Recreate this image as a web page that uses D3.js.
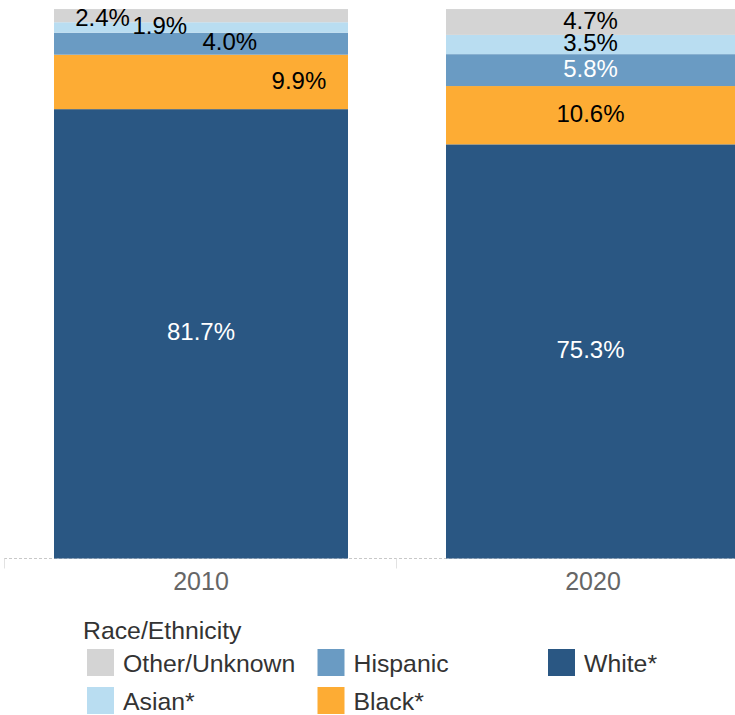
<!DOCTYPE html>
<html>
<head>
<meta charset="utf-8">
<script src="https://cdn.jsdelivr.net/npm/d3@7"></script>
<style>
  html, body { margin: 0; padding: 0; background: #fff; }
  svg { display: block; font-family: 'Liberation Sans', Arial, sans-serif; }
</style>
</head>
<body>
<div id="chart"></div>
<script>
// Data

const years = ['2010', '2020']
const groups = ['Other/Unknown', 'Asian*', 'Hispanic', 'Black*', 'White*']

const other = [2.4, 4.7]
const asian = [1.9, 3.5]
const hispanic = [4.0, 5.8]
const black = [9.9, 10.6]
const white = [81.7, 75.3]

// Layout & styles

const W = 735
const H = 715

const COLORS = {
  'Other/Unknown': '#d4d4d4',
  'Asian*': '#b9ddf1',
  'Hispanic': '#6a9bc3',
  'Black*': '#fdac34',
  'White*': '#2a5783',
  axisText: '#666',
  legendText: '#333',
  baseline: '#c8c8c8',
  divider: '#e2e2e2',
}
const DARK = new Set(['Hispanic', 'White*'])

// where each label sits across its bar (Tableau staggers the crowded 2010 ones)
const LABEL_ALONG = {
  '2010': { 'Other/Unknown': 0.165, 'Asian*': 0.36, 'Hispanic': 0.598, 'Black*': 0.833, 'White*': 0.5 },
  '2020': {},
}

const LABEL_FS = 24
const LEGEND_FS = 24.8
const fmt = v => d3.format('.1f')(v) + '%'

const rows = years.map((year, i) => ({
  year,
  'Other/Unknown': other[i],
  'Asian*': asian[i],
  'Hispanic': hispanic[i],
  'Black*': black[i],
  'White*': white[i],
}))

const stack = d3.stack().keys(groups.slice().reverse())(rows)

// Scales

const x = d3.scaleBand()
  .domain(years)
  .range([5, 789])
  .paddingInner(0.25)
  .paddingOuter(0.125)

const y = d3.scaleLinear()
  .domain([0, 100])
  .range([558.5, 8.5])

// Container

const svg = d3.select('#chart')
  .append('svg')
  .attr('width', W)
  .attr('height', H)

const plot = svg.append('g')

// Baseline & cell dividers

plot.append('line')
  .attr('x1', x.range()[0] - 1)
  .attr('x2', W)
  .attr('y1', y(0))
  .attr('y2', y(0))
  .attr('stroke', COLORS.baseline)
  .attr('stroke-width', 1)
  .attr('stroke-dasharray', '3, 2')

plot.append('g')
  .selectAll('line')
  .data(years)
  .join('line')
  .attr('x1', d => x(d) - x.step() * x.paddingOuter() - 0.5)
  .attr('x2', d => x(d) - x.step() * x.paddingOuter() - 0.5)
  .attr('y1', y(0))
  .attr('y2', y(0) + 10)
  .attr('stroke', COLORS.divider)
  .attr('stroke-width', 1)

// Bars

const layers = plot.append('g')
  .selectAll('g')
  .data(stack)
  .join('g')
  .attr('fill', d => COLORS[d.key])

layers.selectAll('rect')
  .data(d => d.map(s => ({ key: d.key, s })))
  .join('rect')
  .attr('x', d => x(d.s.data.year))
  .attr('width', x.bandwidth())
  .attr('y', d => y(d.s[1]))
  .attr('height', d => y(d.s[0]) - y(d.s[1]))

// Labels

const labels = []
stack.forEach(layer => {
  layer.forEach(s => {
    const year = s.data.year
    const x0 = x(year)
    const x1 = Math.min(x0 + x.bandwidth(), W)
    const along = LABEL_ALONG[year][layer.key]
    const h = y(s[0]) - y(s[1])
    labels.push({
      text: fmt(s.data[layer.key]),
      cx: along == null ? (x0 + x1) / 2 : x0 + along * x.bandwidth(),
      // keep the label inside the top of the plot
      cy: Math.max((y(s[0]) + y(s[1])) / 2 - 2, y.range()[1] + LABEL_FS * 0.36),
      fill: DARK.has(layer.key) && h >= 24 ? '#fff' : '#000',
    })
  })
})

plot.append('g')
  .selectAll('text')
  .data(labels)
  .join('text')
  .attr('x', d => d.cx)
  .attr('y', d => d.cy)
  .attr('dy', '0.36em')
  .attr('text-anchor', 'middle')
  .attr('font-size', LABEL_FS)
  .attr('fill', d => d.fill)
  .text(d => d.text)

// Axis

const axis = plot.append('g')
  .attr('transform', `translate(0,${y(0)})`)
  .call(d3.axisBottom(x).tickSize(0).tickPadding(0))

axis.select('.domain').remove()
axis.selectAll('text')
  .attr('dy', null)
  .attr('y', 31)
  .attr('font-size', 25)
  .attr('font-family', "'Liberation Sans', Arial, sans-serif")
  .attr('fill', COLORS.axisText)

// Legend

const legend = svg.append('g').attr('transform', 'translate(83,0)')

legend.append('text')
  .attr('x', 0)
  .attr('y', 639)
  .attr('font-size', LEGEND_FS)
  .attr('fill', COLORS.legendText)
  .text('Race/Ethnicity')

const item = legend.selectAll('g.item')
  .data(groups)
  .join('g')
  .attr('class', 'item')
  .attr('transform', (d, i) => `translate(${4 + Math.floor(i / 2) * 230.5},${649 + (i % 2) * 38})`)

item.append('rect')
  .attr('width', 27)
  .attr('height', 27)
  .attr('fill', d => COLORS[d])

item.append('text')
  .attr('x', 36)
  .attr('y', 14.5)
  .attr('dy', '0.36em')
  .attr('font-size', LEGEND_FS)
  .attr('fill', COLORS.legendText)
  .text(d => d)
</script>
</body>
</html>
